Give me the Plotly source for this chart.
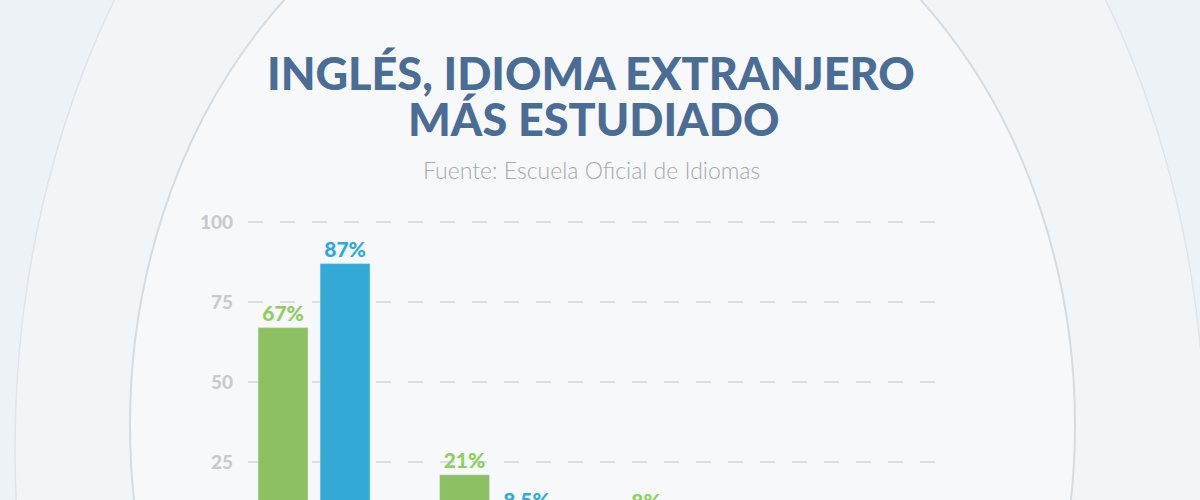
import plotly.graph_objects as go

# ---- data ----
categories = ["Inglés", "Francés", "Alemán"]
serie_a = [67, 21, 8]      # green
serie_b = [87, 8.5, 3]     # blue
y_ticks = [0, 25, 50, 75, 100]

title_line1 = "INGLÉS, IDIOMA EXTRANJERO"
title_line2 = "MÁS ESTUDIADO"
subtitle = "Fuente: Escuela Oficial de Idiomas"

GREEN = "#8dc063"
BLUE = "#33a9d6"
GREEN_TXT = "#8fcf5c"
BLUE_TXT = "#2ea8df"

# The original graphic continues below the 500 px window; the figure is drawn
# taller and the window shows its top 500 px.
W, H = 1200, 600
ML, MR, MT, MB = 248, 262, 210, 58
PW, PH = W - ML - MR, H - MT - MB


def px(x):
    return (x - ML) / PW


def py(y):
    return (H - MB - y) / PH


fig = go.Figure()
fig.add_trace(go.Bar(
    x=categories, y=serie_a, name="A", marker_color=GREEN,
    texttemplate="%{y}%", textposition="outside", cliponaxis=False,
    textfont=dict(family="Lato", size=21, color=GREEN_TXT, weight=900),
    hoverinfo="skip",
))
fig.add_trace(go.Bar(
    x=categories, y=serie_b, name="B", marker_color=BLUE,
    texttemplate="%{y}%", textposition="outside", cliponaxis=False,
    textfont=dict(family="Lato", size=21, color=BLUE_TXT, weight=900),
    hoverinfo="skip",
))

shapes = [
    dict(type="circle", xref="paper", yref="paper", layer="below",
         x0=px(15), x1=px(1205), y0=py(-363), y1=py(1263),
         fillcolor="#f2f5f8", line=dict(color="#dfe4e9", width=1.5)),
    dict(type="circle", xref="paper", yref="paper", layer="below",
         x0=px(130), x1=px(1075), y0=py(-150), y1=py(1000),
         fillcolor="#f6f8fa", line=dict(color="#d6dbe0", width=2)),
]

annotations = [
    dict(text=title_line1, x=px(591), y=py(73), xref="paper", yref="paper",
         showarrow=False, xanchor="center", yanchor="middle",
         font=dict(family="Lato", size=45, color="#4b6c95", weight=900)),
    dict(text=title_line2, x=px(593), y=py(119), xref="paper", yref="paper",
         showarrow=False, xanchor="center", yanchor="middle",
         font=dict(family="Lato", size=45, color="#4b6c95", weight=900)),
    dict(text=subtitle, x=px(591), y=py(170), xref="paper", yref="paper",
         showarrow=False, xanchor="center", yanchor="middle",
         font=dict(family="Lato", size=23, color="#a7a9ab", weight=300)),
]

y_lo = 0
y_hi = (542 - MT) / 3.2

fig.update_layout(
    width=W, height=H,
    margin=dict(l=ML, r=MR, t=MT, b=MB, pad=0),
    paper_bgcolor="#edf2f6", plot_bgcolor="rgba(0,0,0,0)",
    showlegend=False,
    barmode="group", bargap=0.3168, bargroupgap=0.1935,
    shapes=shapes, annotations=annotations,
    xaxis=dict(range=[-0.364, 3.438], showticklabels=False, showgrid=False,
               zeroline=False, showline=False, fixedrange=True),
    yaxis=dict(range=[y_lo, y_hi], tickvals=y_ticks, ticktext=[str(v) for v in y_ticks],
               showgrid=True, gridcolor="#dadee3", gridwidth=1.5, griddash="15px,17px",
               zeroline=False, showline=False, ticklabelstandoff=14,
               tickfont=dict(family="Lato", size=19, color="#c9cacc", weight=900),
               fixedrange=True),
)

fig.write_html(
    "out.html",
    config={"displayModeBar": False},
    post_script="document.body.style.margin='0';document.body.style.overflow='hidden';",
)
